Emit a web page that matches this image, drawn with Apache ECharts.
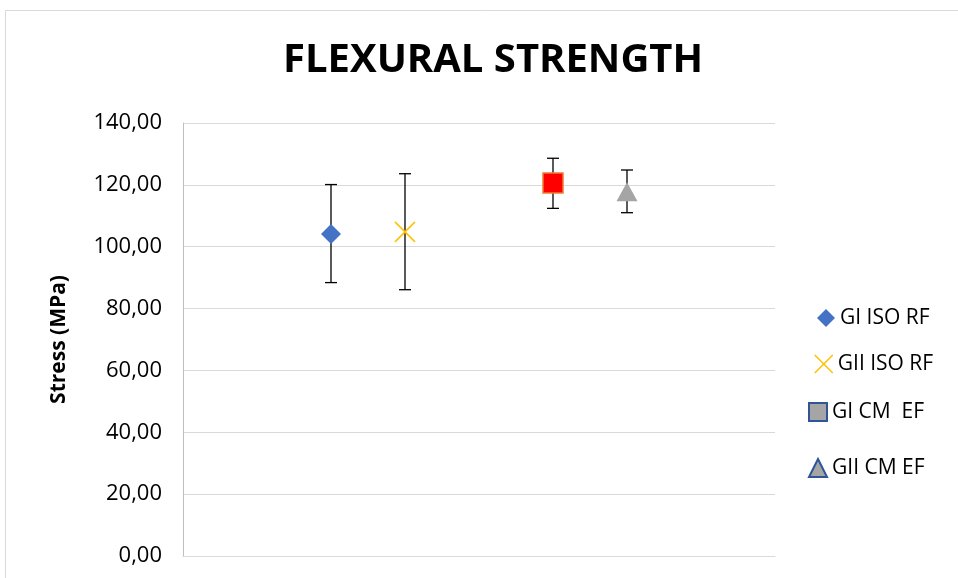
<!DOCTYPE html>
<html lang="en">
<head>
    <meta charset="UTF-8">
    <title>Flexural strength</title>
    <script src="https://cdn.jsdelivr.net/npm/echarts@6/dist/echarts.min.js"></script>
    <style>
        html, body { margin: 0; padding: 0; background: #fff; }
        #main { width: 958px; height: 578px; }
    </style>
</head>
<body>
<div id="main"></div>
<script>
    // groups and their x slot on the hidden 0..8 axis
    var groups = ['GI ISO RF', 'GII ISO RF', 'GI CM  EF', 'GII CM EF'];
    var xPos = [2, 3, 5, 6];
    // mean stress and error bar ends (MPa)
    var means = [104.1, 104.8, 120.6, 117.8];
    var lows = [88.4, 86.1, 112.4, 111.0];
    var highs = [120.1, 123.6, 128.6, 124.8];
    var yTicks = [0, 20, 40, 60, 80, 100, 120, 140];

    var symbols = ['diamond', 'path://M0,0L10,10M10,0L0,10', 'rect', 'triangle'];
    var markStyles = [
        {color: '#4472C4', opacity: 1},
        {color: 'transparent', borderColor: '#FFC000', borderWidth: 1.5, opacity: 1},
        {color: '#FF0000', borderColor: '#ED7D31', borderWidth: 1.5, opacity: 1},
        {color: '#A5A5A5', opacity: 1}
    ];
    var legendStyles = [
        {color: '#4472C4'},
        {color: 'transparent', borderColor: '#FFC000', borderWidth: 1.5},
        {color: '#A5A5A5', borderColor: '#2F5597', borderWidth: 2},
        {color: '#A5A5A5', borderColor: '#2F5597', borderWidth: 2}
    ];
    // centre of each legend row (px)
    var legendRows = [316, 362, 410, 466];
    var legendLefts = [812, 809, 803, 803];

    var chart = echarts.init(document.getElementById('main'));

    var series = [];
    var legends = [];
    for (var i = 0; i < groups.length; i++) {
        series.push({
            name: groups[i],
            type: 'custom',
            z: 2,
            renderItem: function (params, api) {
                var lo = api.coord([api.value(0), api.value(1)]);
                var hi = api.coord([api.value(0), api.value(2)]);
                var w = 6;
                var st = {stroke: '#000', lineWidth: 1.3};
                return {
                    type: 'group',
                    children: [
                        {type: 'line', shape: {x1: lo[0], y1: lo[1], x2: hi[0], y2: hi[1]}, style: st},
                        {type: 'line', shape: {x1: lo[0] - w, y1: lo[1], x2: lo[0] + w, y2: lo[1]}, style: st},
                        {type: 'line', shape: {x1: hi[0] - w, y1: hi[1], x2: hi[0] + w, y2: hi[1]}, style: st}
                    ]
                };
            },
            data: [[xPos[i], lows[i], highs[i]]],
            silent: true
        });
        series.push({
            name: groups[i],
            type: 'scatter',
            z: 3,
            symbol: symbols[i],
            symbolSize: i == 3 ? [21, 19] : 20,
            itemStyle: markStyles[i],
            data: [[xPos[i], means[i]]]
        });
        legends.push({
            left: legendLefts[i],
            top: legendRows[i] - 15,
            orient: 'vertical',
            itemWidth: 18,
            itemHeight: 18,
            textStyle: {fontSize: 21, color: '#000', fontFamily: 'Open Sans', lineHeight: 24},
            data: [{name: groups[i], icon: symbols[i], itemStyle: legendStyles[i]}],
            selectedMode: false
        });
    }

    var option = {
        animation: false,
        textStyle: {fontFamily: 'Open Sans'},
        title: {
            text: 'FLEXURAL STRENGTH',
            left: 278,
            top: 36,
            textStyle: {fontSize: 40, fontWeight: 'bold', color: '#000', fontFamily: 'Open Sans'}
        },
        graphic: [{
            type: 'rect',
            shape: {x: 5.5, y: 10.5, width: 960, height: 580},
            style: {fill: 'none', stroke: '#d9d9d9', lineWidth: 1},
            silent: true
        }],
        legend: legends,
        grid: {left: 183, right: 183, top: 123, bottom: 22},
        xAxis: {
            type: 'value',
            min: 0,
            max: 8,
            axisLine: {show: true, onZero: false, lineStyle: {color: '#d9d9d9'}},
            axisTick: {show: false},
            axisLabel: {show: false},
            splitLine: {show: false}
        },
        yAxis: {
            type: 'value',
            min: yTicks[0],
            max: yTicks[yTicks.length - 1],
            interval: 20,
            name: 'Stress (MPa)',
            nameLocation: 'middle',
            nameGap: 113,
            nameTextStyle: {fontSize: 21, fontWeight: 'bold', color: '#000', fontFamily: 'Open Sans'},
            axisLine: {show: true, lineStyle: {color: '#bfbfbf'}},
            axisTick: {show: false},
            axisLabel: {
                fontSize: 22,
                color: '#000',
                margin: 21,
                formatter: function (v) { return v.toFixed(2).replace('.', ','); }
            },
            splitLine: {lineStyle: {color: '#d9d9d9', width: 1}}
        },
        series: series
    };

    chart.setOption(option);
</script>
</body>
</html>
